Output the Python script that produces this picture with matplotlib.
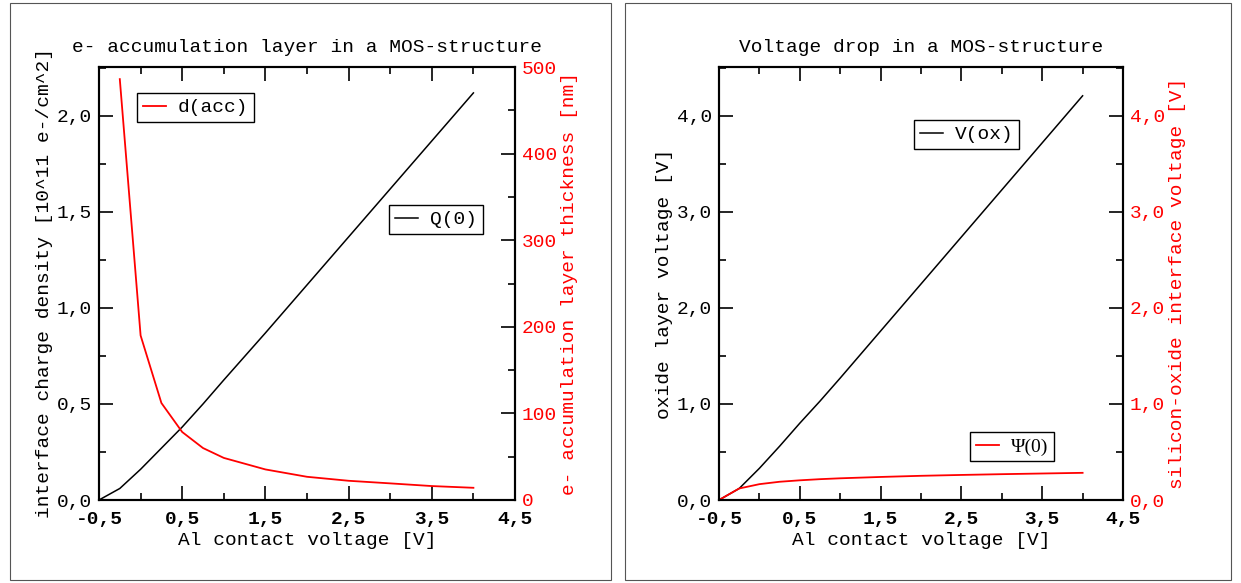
import numpy as np
import matplotlib
matplotlib.use('Agg')
import matplotlib.pyplot as plt
from matplotlib.ticker import FixedLocator, FuncFormatter
from matplotlib.patches import Rectangle

plt.rcParams['font.family'] = ['Liberation Mono', 'DejaVu Sans Mono']
plt.rcParams['font.size'] = 14

# data
va = [-0.5, -0.25, 0.0, 0.25, 0.5, 0.75, 1.0, 1.5, 2.0, 2.5, 3.0, 3.5, 4.0]
q0 = [0.0, 0.06, 0.16, 0.27, 0.38, 0.50, 0.625, 0.87, 1.12, 1.37, 1.62, 1.87, 2.12]
va_d = [-0.25, 0.0, 0.25, 0.5, 0.75, 1.0, 1.5, 2.0, 2.5, 3.0, 3.5, 4.0]
dacc = [486, 190, 112, 78.5, 60, 48.6, 35.3, 26.8, 22.2, 19.2, 16.1, 14.1]
vox = [0.0, 0.12, 0.33, 0.56, 0.80, 1.03, 1.27, 1.76, 2.25, 2.74, 3.23, 3.72, 4.21]
psi = [0.0, 0.12, 0.165, 0.19, 0.205, 0.217, 0.226, 0.24, 0.252, 0.261, 0.269, 0.276, 0.283]

W, H = 1241, 583
fig = plt.figure(figsize=(W / 100, H / 100), dpi=100)

def px(x0, y0, x1, y1):
    return [x0 / W, 1 - y1 / H, (x1 - x0) / W, (y1 - y0) / H]

# panel frames
for x0, x1 in [(10, 611), (625, 1231)]:
    fig.patches.append(Rectangle((x0 / W, 3 / H), (x1 - x0) / W, (580 - 3) / H,
                                 transform=fig.transFigure, fill=False,
                                 edgecolor='#555555', linewidth=0.8))

comma = FuncFormatter(lambda v, p: ("%.1f" % v).replace('.', ','))
intf = FuncFormatter(lambda v, p: "%d" % v)

def style(ax, ax2):
    ax.set_xlim(-0.5, 4.5)
    ax.xaxis.set_major_locator(FixedLocator(np.arange(-0.5, 4.6, 1.0)))
    ax.xaxis.set_minor_locator(FixedLocator(np.arange(0, 4.1, 1.0)))
    ax.xaxis.set_major_formatter(comma)
    for lab in ax.get_xticklabels():
        lab.set_fontweight('bold')
    ax.tick_params(which='both', direction='in', top=True, right=False, width=1.2)
    ax.tick_params(which='major', length=10)
    ax.tick_params(which='minor', length=5)
    ax.tick_params(axis='x', pad=8)
    ax.tick_params(axis='y', pad=5)
    ax2.tick_params(which='both', direction='in', width=1.2, colors='black',
                    labelcolor='red', pad=5)
    ax2.tick_params(which='major', length=10)
    ax2.tick_params(which='minor', length=5)
    for a in (ax, ax2):
        for s in a.spines.values():
            s.set_linewidth(1.5)
    ax.set_xlabel("Al contact voltage [V]", labelpad=3)

# left panel
ax = fig.add_axes(px(99, 67, 515, 500))
ax2 = ax.twinx()
ax.plot(va, q0, c='black', lw=1.1, label="Q(0)")
ax2.plot(va_d, dacc, c='red', lw=1.3, label="d(acc)")
ax.set_ylim(0, 2.255)
ax.yaxis.set_major_locator(FixedLocator(np.arange(0, 2.1, 0.5)))
ax.yaxis.set_minor_locator(FixedLocator(np.arange(0.25, 2.3, 0.5)))
ax.yaxis.set_major_formatter(comma)
ax2.set_ylim(0, 500)
ax2.yaxis.set_major_locator(FixedLocator(np.arange(0, 501, 100)))
ax2.yaxis.set_minor_locator(FixedLocator(np.arange(50, 501, 100)))
ax2.yaxis.set_major_formatter(intf)
style(ax, ax2)
ax.set_title("e- accumulation layer in a MOS-structure", fontsize=14, pad=11)
ax.set_ylabel("interface charge density [10^11 e-/cm^2]", labelpad=3)
ax2.set_ylabel("e- accumulation layer thickness [nm]", color='red', labelpad=3)

leg_kw = dict(fancybox=False, edgecolor='black', framealpha=1, handlelength=1.2,
              borderpad=0.3, handletextpad=0.6, borderaxespad=0,
              bbox_transform=fig.transFigure, loc='upper left')
l1 = ax2.legend(bbox_to_anchor=(137 / W, 1 - 93 / H), **leg_kw)
l2 = ax.legend(bbox_to_anchor=(389 / W, 1 - 205 / H), **leg_kw)

# right panel
bx = fig.add_axes(px(719, 67, 1123, 500))
bx2 = bx.twinx()
bx.plot(va, vox, c='black', lw=1.1, label="V(ox)")
bx2.plot(va, psi, c='red', lw=1.3, label="\u03a8(0)")
for a in (bx, bx2):
    a.set_ylim(0, 4.51)
    a.yaxis.set_major_locator(FixedLocator(np.arange(0, 4.1, 1.0)))
    a.yaxis.set_minor_locator(FixedLocator(np.arange(0.5, 4.6, 1.0)))
    a.yaxis.set_major_formatter(comma)
style(bx, bx2)
bx.set_title("Voltage drop in a MOS-structure", fontsize=14, pad=11)
bx.set_ylabel("oxide layer voltage [V]", labelpad=3)
bx2.set_ylabel("silicon-oxide interface voltage [V]", color='red', labelpad=3)
l3 = bx.legend(bbox_to_anchor=(914 / W, 1 - 120 / H), **leg_kw)
l4 = bx2.legend(bbox_to_anchor=(970 / W, 1 - 432 / H),
                prop={'family': 'Liberation Serif', 'size': 14}, **leg_kw)

for l in (l1, l2, l3, l4):
    l.get_frame().set_linewidth(1.0)

fig.savefig("out.png", dpi=100)
